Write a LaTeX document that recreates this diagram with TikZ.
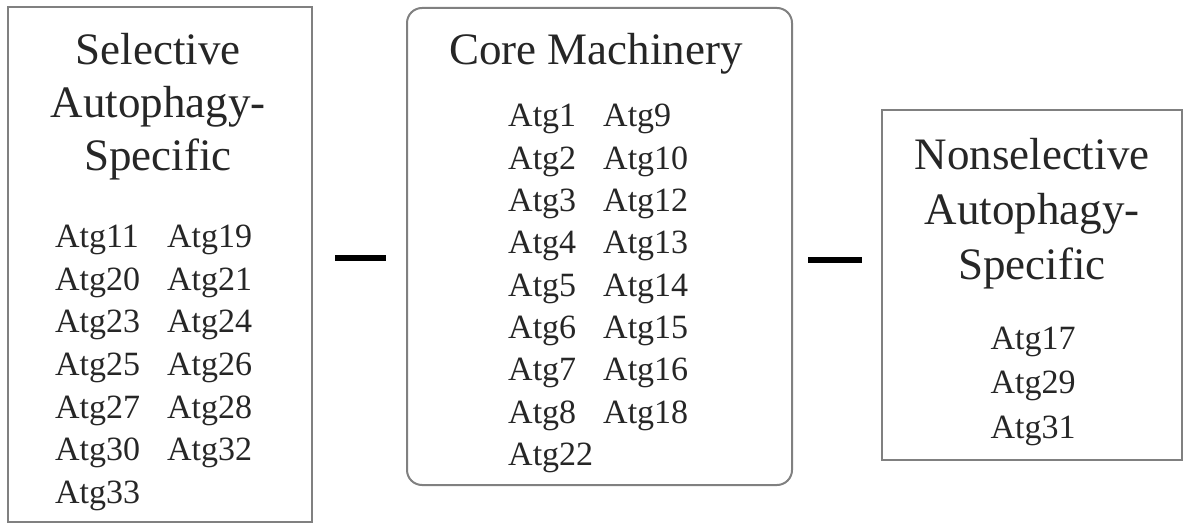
\documentclass[tikz,border=0pt]{standalone}
\usepackage{fontspec}
\setmainfont{Liberation Serif}
\usetikzlibrary{positioning}
\definecolor{boxgray}{rgb}{0.5,0.5,0.5}
\definecolor{ink}{rgb}{0.15,0.15,0.15}

\begin{document}
\begin{tikzpicture}[x=1pt,y=-1pt,
    box/.style={draw=boxgray,line width=2pt,inner sep=0pt},
    ttl/.style={anchor=base,inner sep=0pt,text=ink,font=\fontsize{45}{54}\selectfont},
    gene/.style={anchor=base west,inner sep=0pt,text=ink,font=\fontsize{34}{42}\selectfont},
    genec/.style={gene,anchor=base},
    bar/.style={line width=6pt,draw=black}]
    \useasboundingbox (0,0) rectangle (1184,529);

    % the three groups
    \node[box,minimum width=304,minimum height=515] (sel) at (160,264.5) {};
    \node[box,rounded corners=15pt,minimum width=385,minimum height=477] (core) at (599.5,246.5) {};
    \node[box,minimum width=300,minimum height=350] (nons) at (1032,285) {};

    % titles
    \foreach \t [count=\i] in {Selective,Autophagy-,Specific}
        \node[ttl] (selt\i) at (158,{65+53*(\i-1)}) {\t};
    \node[ttl] (coret) at (596,65) {Core Machinery};
    \foreach \t [count=\i] in {Nonselective,Autophagy-,Specific}
        \node[ttl] (nonst\i) at (1032,{170+55*(\i-1)}) {\t};

    % selective autophagy genes
    \foreach \g [count=\i] in {11,20,23,25,27,30,33}
        \node[gene] (sela\i) at (55,{248+42.5*(\i-1)}) {Atg\g};
    \foreach \g [count=\i] in {19,21,24,26,28,32}
        \node[gene] (selb\i) at (167,{248+42.5*(\i-1)}) {Atg\g};

    % core machinery genes
    \foreach \g [count=\i] in {1,2,3,4,5,6,7,8,22}
        \node[gene] (corea\i) at (508,{127+42.3*(\i-1)}) {Atg\g};
    \foreach \g [count=\i] in {9,10,12,13,14,15,16,18}
        \node[gene] (coreb\i) at (603,{127+42.3*(\i-1)}) {Atg\g};

    % nonselective autophagy genes
    \foreach \g [count=\i] in {17,29,31}
        \node[genec] (nonsa\i) at (1033,{350+44*(\i-1)}) {Atg\g};

    % dashes between the groups
    \coordinate (d1a) at (335,258);
    \coordinate (d1b) at (386,258);
    \coordinate (d2a) at (808,260);
    \coordinate (d2b) at (862,260);
    \draw[bar] (d1a) -- (d1b);
    \draw[bar] (d2a) -- (d2b);
\end{tikzpicture}
\end{document}
